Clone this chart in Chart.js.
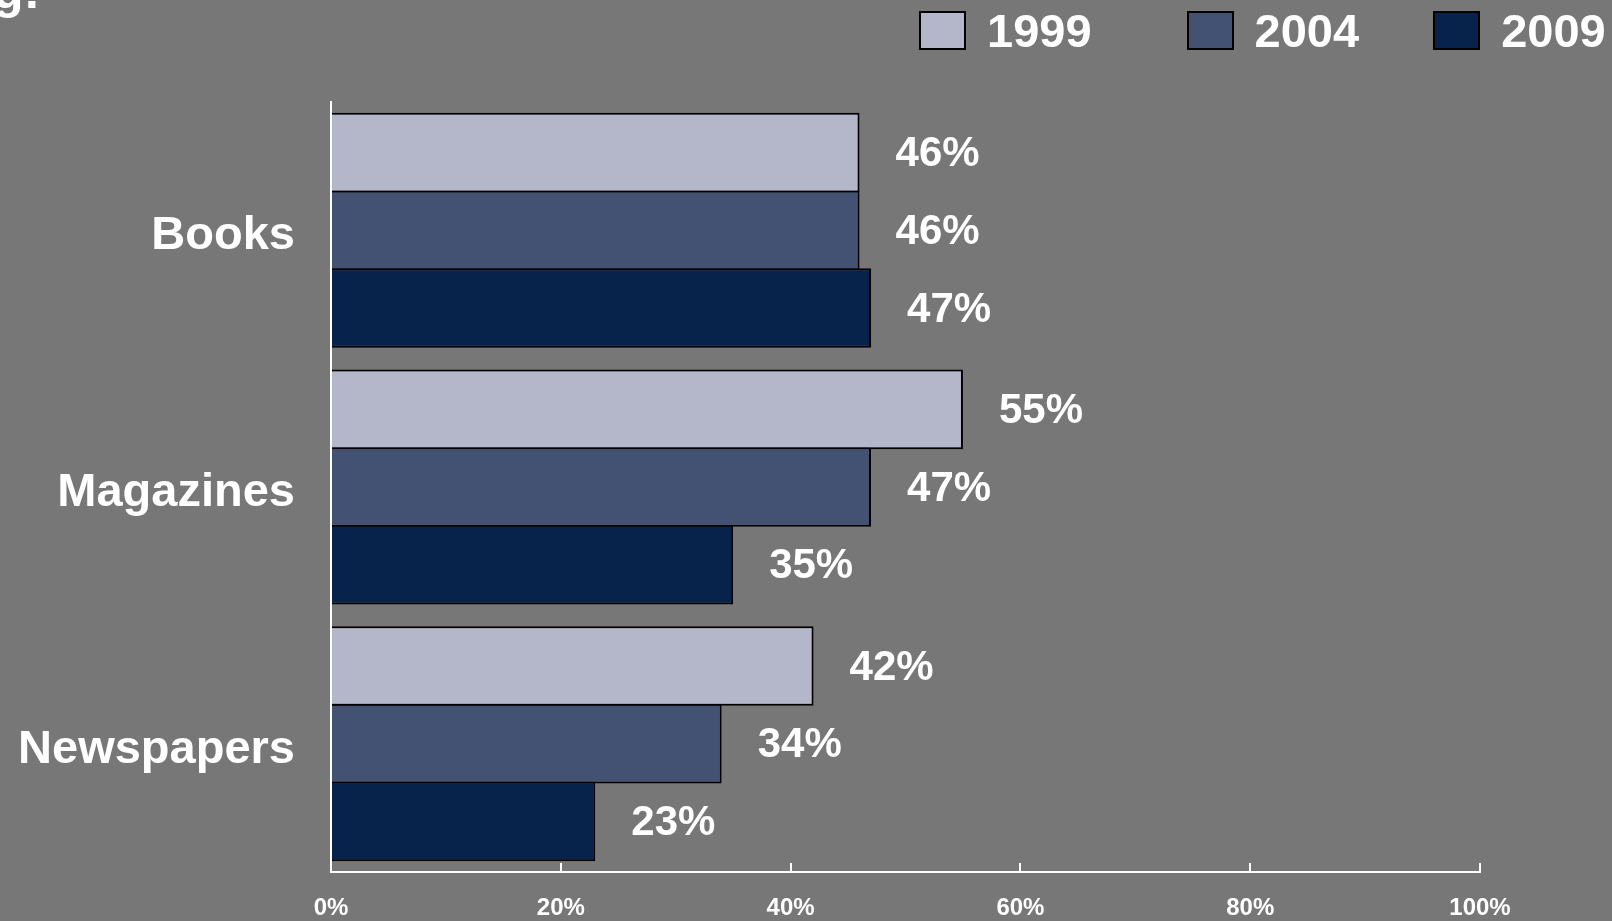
<!DOCTYPE html>
<html>
<head>
<meta charset="utf-8">
<title>Readership by medium</title>
<script src="https://cdn.jsdelivr.net/npm/chart.js@4.4.1/dist/chart.umd.min.js"></script>
<style>
    html, body { margin: 0; padding: 0; background: #777777; overflow: hidden; }
    #wrap { position: relative; width: 1612px; height: 921px; }
    #chart { position: absolute; left: 0; top: 0; }
    .heading {
        position: absolute; left: -7px; top: -34px;
        font: bold 50px "Liberation Sans", Arial, sans-serif;
        line-height: 50px; color: #fff; white-space: nowrap;
    }
    #legend { position: absolute; left: 919px; top: 11px; display: flex; }
    .lg-item { display: flex; align-items: center; height: 39px; }
    .lg-item:nth-child(2) { margin-left: 95px; }
    .lg-item:nth-child(3) { margin-left: 74px; }
    .lg-box { width: 47px; height: 39px; box-sizing: border-box; border: 2px solid #000; }
    .lg-text {
        margin-left: 21px; color: #fff; line-height: 39px;
        font: bold 47px "Liberation Sans", Arial, sans-serif;
    }
</style>
</head>
<body>
<div id="wrap">
    <div class="heading">g:</div>
    <canvas id="chart" width="1612" height="921"></canvas>
    <div id="legend"></div>
</div>
<script>
const categories = ["Books", "Magazines", "Newspapers"];
const years = ["1999", "2004", "2009"];
const values1999 = [46, 55, 42];
const values2004 = [46, 47, 34];
const values2009 = [47, 35, 23];
const xTicks = [0, 20, 40, 60, 80, 100];

const colors = ["#B4B7C9", "#435172", "#07224B"];
const FONT = '"Liberation Sans", Arial, sans-serif';

// percentage labels just past the end of each bar
const barLabels = {
    id: 'barLabels',
    afterDatasetsDraw(chart) {
        const ctx = chart.ctx;
        ctx.save();
        ctx.fillStyle = '#fff';
        ctx.font = 'bold 42px ' + FONT;
        ctx.textAlign = 'left';
        ctx.textBaseline = 'middle';
        chart.data.datasets.forEach((ds, i) => {
            chart.getDatasetMeta(i).data.forEach((bar, j) => {
                ctx.fillText(ds.data[j] + '%', bar.x + 36, bar.y + 2);
            });
        });
        ctx.restore();
    }
};

// short tick marks pointing up from the x axis
const innerTicks = {
    id: 'innerTicks',
    afterDraw(chart) {
        const ctx = chart.ctx;
        const x = chart.scales.x;
        const bottom = chart.chartArea.bottom;
        ctx.save();
        ctx.strokeStyle = '#fff';
        ctx.lineWidth = 2;
        x.ticks.forEach(t => {
            const px = Math.round(x.getPixelForValue(t.value));
            ctx.beginPath();
            ctx.moveTo(px, bottom);
            ctx.lineTo(px, bottom - 9);
            ctx.stroke();
        });
        ctx.restore();
    }
};

const series = [values1999, values2004, values2009];

const chart = new Chart(document.getElementById('chart').getContext('2d'), {
    type: 'bar',
    data: {
        labels: categories,
        datasets: series.map((data, i) => ({
            label: years[i],
            data: data,
            backgroundColor: colors[i],
            borderColor: '#000',
            borderWidth: { top: 2, bottom: 2, right: 2, left: 0 },
            borderSkipped: false,
            categoryPercentage: 0.908,
            // slight overlap so neighbouring bars share one edge line
            barPercentage: 1.026
        }))
    },
    options: {
        indexAxis: 'y',
        responsive: false,
        animation: false,
        layout: { padding: { top: 102, right: 132, left: 0, bottom: 0 } },
        plugins: {
            legend: { display: false },
            tooltip: { enabled: false }
        },
        scales: {
            y: {
                grid: { display: false, drawTicks: false },
                border: { color: '#fff', width: 2, z: 1 },
                ticks: {
                    color: '#fff',
                    padding: 36,
                    labelOffset: 6,
                    font: { family: FONT, size: 47, weight: 'bold' }
                },
                afterFit: s => {
                    s.width = 331;
                    s.paddingTop = 0;
                    s.paddingBottom = 0;
                }
            },
            x: {
                min: 0,
                max: 100,
                afterBuildTicks: s => { s.ticks = xTicks.map(v => ({ value: v })); },
                grid: { display: false, drawTicks: false },
                border: { color: '#fff', width: 2 },
                ticks: {
                    color: '#fff',
                    padding: 22,
                    font: { family: FONT, size: 24, weight: 'bold' },
                    callback: v => v + '%'
                },
                afterFit: s => { s.height = 49; }
            }
        }
    },
    plugins: [barLabels, innerTicks]
});

// legend built from the datasets
const legend = document.getElementById('legend');
chart.data.datasets.forEach(ds => {
    const item = document.createElement('div');
    item.className = 'lg-item';
    item.innerHTML = `<div class="lg-box" style="background:${ds.backgroundColor}"></div><span class="lg-text">${ds.label}</span>`;
    legend.appendChild(item);
});
</script>
</body>
</html>
